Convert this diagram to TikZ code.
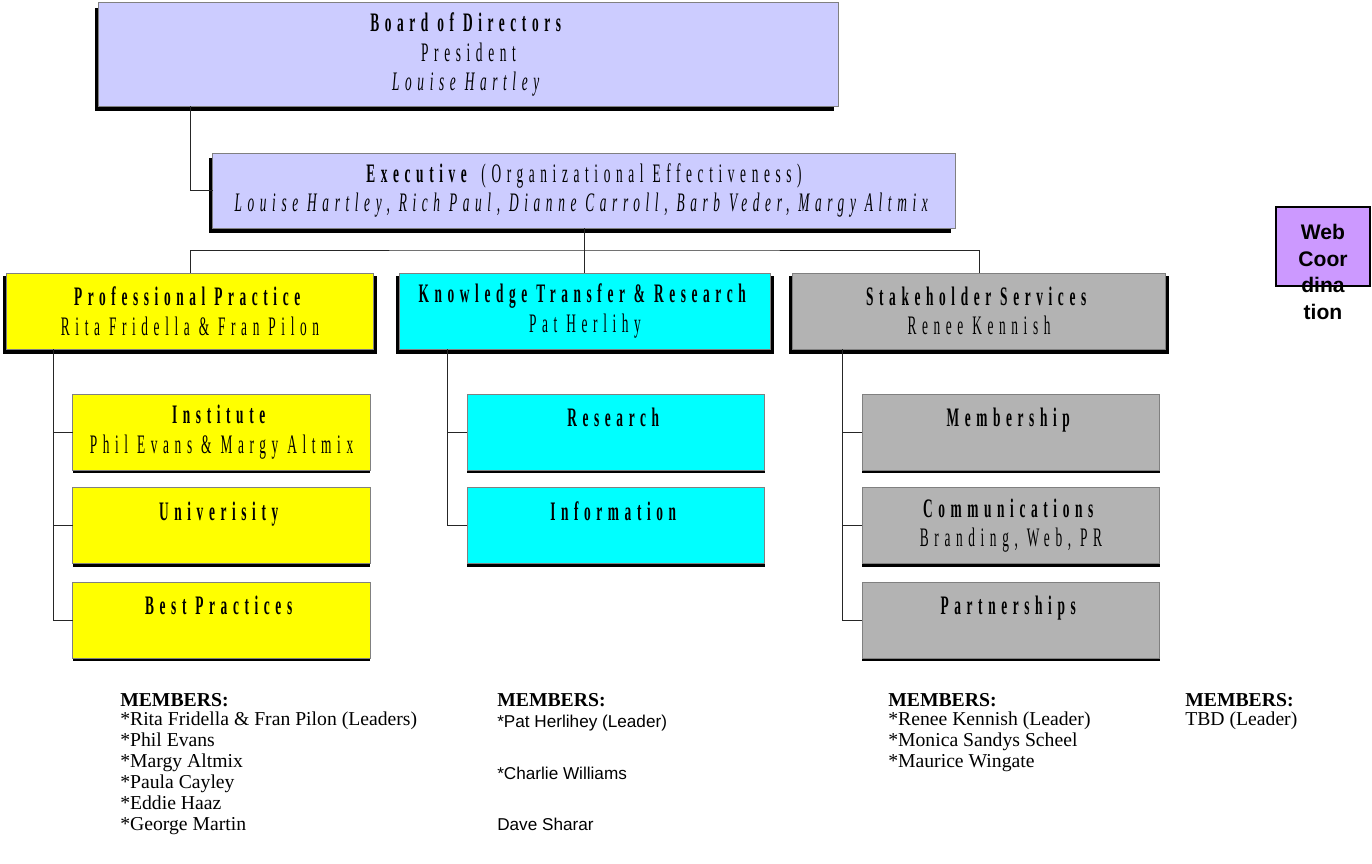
\documentclass[tikz,border=0pt]{standalone}
\usepackage{fontspec}
\setmainfont{Liberation Serif}
\newfontfamily\orgfont[FakeStretch=0.5,LetterSpace=21]{Liberation Serif}
\newfontfamily\arialfont{Liberation Sans}
\usetikzlibrary{positioning,shadows}
\definecolor{boardblue}{RGB}{204,204,255}
\definecolor{unityellow}{RGB}{255,255,0}
\definecolor{unitcyan}{RGB}{0,255,255}
\definecolor{unitgray}{RGB}{179,179,179}
\definecolor{webpurple}{RGB}{204,153,255}
\definecolor{edgegray}{RGB}{128,128,128}
\tikzset{
    box/.style={rectangle, draw=edgegray, line width=0.7pt, align=center, inner sep=0pt, outer sep=0pt, font=\orgfont\fontsize{19}{21}\selectfont},
    topbox/.style={box, fill=boardblue, drop shadow={fill=black, opacity=1, shadow xshift=-0.1cm, shadow yshift=-0.12cm}},
    unit/.style={box, minimum height=1.9cm, general shadow={fill=black, shadow xshift=0cm, shadow yshift=-0.1cm, shadow scale=1.02}},
    subunit/.style={box, minimum width=7.425cm, minimum height=1.9cm, drop shadow={fill=black, opacity=1, shadow xshift=0cm, shadow yshift=-0.08cm}},
    link/.style={draw=black!85, line width=0.6pt},
    % Members lists
    head/.style={anchor=west, inner sep=0pt, font=\fontsize{14}{14.9}\selectfont\bfseries},
    roster/.style={anchor=north west, align=left, inner sep=0pt, font=\fontsize{14}{14.9}\selectfont}
}
\begin{document}
\begin{tikzpicture}[x=0.025cm, y=-0.025cm]
\useasboundingbox (0,0) rectangle (1372,863);

% Board and executive
\node[topbox, minimum width=18.475cm, minimum height=2.575cm] (board) at (468.5,54.5)
    {\textbf{Board of Directors}\\President\\\textit{Louise Hartley}};
\node[topbox, minimum width=18.55cm, minimum height=1.875cm] (exec) at (584,190.5)
    {\textbf{Executive} (Organizational Effectiveness)\\\textit{Louise Hartley, Rich Paul, Dianne Carroll, Barb Veder, Margy Altmix}};

% Committees
\node[unit, fill=unityellow, minimum width=9.15cm] (pp) at (190,311)
    {\textbf{Professional Practice}\\Rita Fridella \& Fran Pilon};
\node[unit, fill=unitcyan, minimum width=9.25cm] (ktr) at (585,311)
    {\textbf{Knowledge Transfer \& Research}\\Pat Herlihy};
\node[unit, fill=unitgray, minimum width=9.3cm] (ss) at (979,311)
    {\textbf{Stakeholder Services}\\Renee Kennish};

% Sub-committees
\node[subunit, fill=unityellow] (inst) at (221.5,432) {\textbf{Institute}\\Phil Evans \& Margy Altmix};
\node[subunit, fill=unityellow] (univ) at (221.5,525.5) {\textbf{Univerisity}\\\mbox{}};
\node[subunit, fill=unityellow] (best) at (221.5,620) {\textbf{Best Practices}\\\mbox{}};
\node[subunit, fill=unitcyan] (res) at (616,432) {\textbf{Research}\\\mbox{}};
\node[subunit, fill=unitcyan] (info) at (616,525.5) {\textbf{Information}\\\mbox{}};
\node[subunit, fill=unitgray] (memb) at (1011,432) {\textbf{Membership}\\\mbox{}};
\node[subunit, fill=unitgray] (comm) at (1011,525.5) {\textbf{Communications}\\Branding, Web, PR};
\node[subunit, fill=unitgray] (part) at (1011,620) {\textbf{Partnerships}\\\mbox{}};

% Web coordination
\node[draw=black, line width=1pt, fill=webpurple, minimum width=2.35cm, minimum height=1.975cm, inner sep=0pt] (web) at (1323,246.5) {};
\node[align=center, inner sep=0pt, font=\arialfont\bfseries\fontsize{15}{19}\selectfont] (webtext) at (1323,272) {Web\\Coor\\dina\\tion};

% Connections
\draw[link] (board.south -| pp.north) |- (exec.west);
\coordinate (bus) at (exec.south |- 0,250);
\draw[link] (exec.south) -- (bus);
\draw[link] (pp.north) |- (bus) -| (ss.north);
\draw[link] (bus) -- (bus |- ktr.north);

\coordinate (ppdrop) at (pp.south -| 53,0);
\coordinate (ktrdrop) at (ktr.south -| 447,0);
\coordinate (ssdrop) at (ss.south -| 842,0);
\draw[link] (ppdrop) |- (best.west);
\draw[link] (ktrdrop) |- (info.west);
\draw[link] (ssdrop) |- (part.west);
\foreach \s/\d in {inst/ppdrop, univ/ppdrop, res/ktrdrop, memb/ssdrop, comm/ssdrop} {
    \draw[link] (\s.west -| \d) -- (\s.west);
}

% Members
\foreach \x/\n in {120/m1, 497/m2, 888/m3, 1185/m4} {
    \node[head] (\n) at (\x,700) {MEMBERS:};
}
\node[roster] (l1) at (120,712) {*Rita Fridella \& Fran Pilon (Leaders)\\*Phil Evans\\*Margy Altmix\\*Paula Cayley\\*Eddie Haaz\\*George Martin};
\node[roster, font=\arialfont\fontsize{12.2}{36.6}\selectfont] (l2) at (497,715) {*Pat Herlihey (Leader)\\*Charlie Williams\\Dave Sharar};
\node[roster] (l3) at (888,712) {*Renee Kennish (Leader)\\*Monica Sandys Scheel\\*Maurice Wingate};
\node[roster] (l4) at (1185,712) {TBD (Leader)};
\end{tikzpicture}
\end{document}
